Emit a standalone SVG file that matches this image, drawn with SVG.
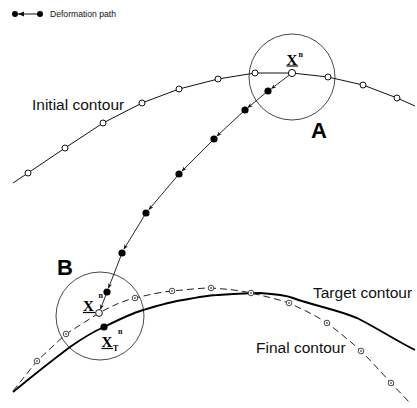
<svg xmlns="http://www.w3.org/2000/svg" width="417" height="408" viewBox="0 0 417 408">
<style>
.lbl{font-family:"Liberation Sans",Arial,sans-serif;font-size:15.5px;fill:#111}
.big{font-family:"Liberation Sans",Arial,sans-serif;font-size:22px;font-weight:bold;fill:#000}
.x{font-family:"Liberation Serif","Times New Roman",serif;font-size:15px;font-weight:bold;fill:#000}
.sup{font-family:"Liberation Serif","Times New Roman",serif;font-size:8px;font-weight:bold;fill:#000}
.ring{fill:none;stroke:#333;stroke-width:0.9}
.init{fill:none;stroke:#111;stroke-width:1}
.oc{fill:#fff;stroke:#111;stroke-width:1}
.fc{fill:#fff;stroke:#333;stroke-width:0.9}
.dot{fill:#000}
.seg{stroke:#111;stroke-width:0.9;marker-end:url(#arr)}
</style>
<defs>
<marker id="arr" viewBox="0 0 10 10" refX="9" refY="5" markerWidth="5" markerHeight="5" orient="auto" markerUnits="userSpaceOnUse">
<path d="M0,1 L10,5 L0,9 L3,5 Z" fill="#111"/>
</marker>
</defs>

<g id="legend">
<line x1="15" y1="14" x2="40" y2="14" stroke="#111" stroke-width="1"/>
<path d="M18,14 L24,11.5 L24,16.5 Z" fill="#111"/>
<circle cx="15" cy="14" r="3" class="dot"/>
<circle cx="40" cy="14" r="3" class="dot"/>
<text x="50" y="17" style="font-family:'Liberation Sans',Arial,sans-serif;font-size:8.6px;fill:#111">Deformation path</text>
</g>

<g id="circle-A">
<circle cx="292" cy="77" r="43" class="ring"/>
<text x="311" y="138" class="big">A</text>
</g>
<g id="circle-B">
<circle cx="100" cy="316" r="44" class="ring"/>
<text x="57" y="275" class="big">B</text>
</g>

<g id="connectors">
<g id="initial-contour">
<polyline class="init" points="13,183 28,173 65,148 103,123 142,103 179,89 218,79 255,73 292,73 328,77 363,85 397,98 415,106"/>
</g>
<g id="target-contour">
<path d="M13,392 C30,378 50,362 70,347 C80,340 90,333 104,327 C118,320 130,314 143,310 C160,305 170,302 183,300 C200,297 210,295 217,295 C232,294 245,293 260,293 C275,294 285,295 293,298 C315,306 335,309 357,318 C377,328 395,340 415,350" fill="none" stroke="#000" stroke-width="1.9"/>
</g>
<g id="final-contour">
<path d="M13,391 L37,361 L66,334 L99,313 C112,306 122,301 135,298 C148,295 160,292 172,291 C185,290 198,288 211,288 C225,289 238,290 251,293 C264,296 277,299 289,303 C302,309 315,315 327,323 C339,332 350,341 361,351 C371,361 381,372 391,383 L410,403" fill="none" stroke="#222" stroke-width="1" stroke-dasharray="7,4"/>
</g>
<g id="deformation-path">
<line class="seg" x1="292" y1="73" x2="271.5" y2="88.5"/>
<line class="seg" x1="268" y1="91" x2="248" y2="107.5"/>
<line class="seg" x1="245" y1="110" x2="217" y2="136"/>
<line class="seg" x1="214" y1="139" x2="182" y2="171"/>
<line class="seg" x1="179" y1="174" x2="149" y2="209.5"/>
<line class="seg" x1="146" y1="213" x2="124" y2="249"/>
<line class="seg" x1="122" y1="253" x2="108.5" y2="288"/>
<line class="seg" x1="107" y1="292" x2="100.5" y2="309"/>
</g>
</g>

<g id="initial-points">
<circle cx="28" cy="173" r="3" class="oc"/>
<circle cx="65" cy="148" r="3" class="oc"/>
<circle cx="103" cy="123" r="3" class="oc"/>
<circle cx="142" cy="103" r="3" class="oc"/>
<circle cx="179" cy="89" r="3" class="oc"/>
<circle cx="218" cy="79" r="3" class="oc"/>
<circle cx="255" cy="73" r="3" class="oc"/>
<circle cx="328" cy="77" r="3" class="oc"/>
<circle cx="363" cy="85" r="3" class="oc"/>
<circle cx="397" cy="98" r="3" class="oc"/>
</g>

<g id="final-points">
<g class="fp">
<circle cx="37" cy="361" r="2.8" class="fc"/><circle cx="37" cy="361" r="0.8" class="dot"/>
<circle cx="66" cy="334" r="2.8" class="fc"/><circle cx="66" cy="334" r="0.8" class="dot"/>
<circle cx="135" cy="298" r="2.8" class="fc"/><circle cx="135" cy="298" r="0.8" class="dot"/>
<circle cx="172" cy="291" r="2.8" class="fc"/><circle cx="172" cy="291" r="0.8" class="dot"/>
<circle cx="211" cy="288" r="2.8" class="fc"/><circle cx="211" cy="288" r="0.8" class="dot"/>
<circle cx="251" cy="293" r="2.8" class="fc"/><circle cx="251" cy="293" r="0.8" class="dot"/>
<circle cx="289" cy="303" r="2.8" class="fc"/><circle cx="289" cy="303" r="0.8" class="dot"/>
<circle cx="327" cy="323" r="2.8" class="fc"/><circle cx="327" cy="323" r="0.8" class="dot"/>
<circle cx="361" cy="351" r="2.8" class="fc"/><circle cx="361" cy="351" r="0.8" class="dot"/>
<circle cx="391" cy="383" r="2.8" class="fc"/><circle cx="391" cy="383" r="0.8" class="dot"/>
</g>
</g>

<g id="path-points">
<circle cx="268" cy="91" r="3.6" class="dot"/>
<circle cx="245" cy="110" r="3.6" class="dot"/>
<circle cx="214" cy="139" r="3.6" class="dot"/>
<circle cx="179" cy="174" r="3.6" class="dot"/>
<circle cx="146" cy="213" r="3.6" class="dot"/>
<circle cx="122" cy="253" r="3.6" class="dot"/>
<circle cx="107" cy="292" r="3.6" class="dot"/>
</g>

<g id="node-xn-A">
<circle cx="292" cy="73" r="3.6" class="oc" stroke-width="1.3"/>
<text x="286.5" y="65" class="x">X</text>
<line x1="286.5" y1="66" x2="298" y2="66" stroke="#000" stroke-width="1.2"/>
<text x="298.5" y="57" class="sup">n</text>
</g>

<g id="node-xn-B">
<circle cx="99" cy="313" r="3.4" class="oc" stroke-width="1.2"/>
<text x="83" y="311" class="x">X</text>
<line x1="83" y1="312.5" x2="95" y2="312.5" stroke="#000" stroke-width="1.2"/>
<text x="98.5" y="298" class="sup">n</text>
</g>

<g id="node-xt-B">
<circle cx="104" cy="327" r="3.6" class="dot"/>
<text x="101.5" y="347" class="x">X</text>
<line x1="101.5" y1="348.5" x2="113" y2="348.5" stroke="#000" stroke-width="1.2"/>
<text x="113" y="351" class="sup">T</text>
<text x="118" y="334" class="sup">n</text>
</g>

<g id="labels">
<text x="32" y="110" class="lbl">Initial contour</text>
<text x="313" y="298" class="lbl">Target contour</text>
<text x="256" y="353" class="lbl">Final contour</text>
</g>
</svg>
